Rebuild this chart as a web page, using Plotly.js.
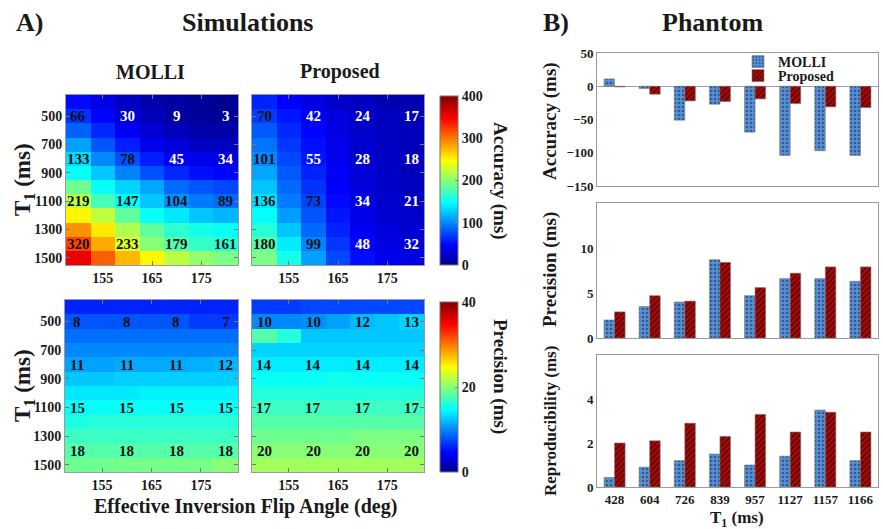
<!DOCTYPE html>
<html>
<head>
<meta charset="utf-8">
<script src="https://cdn.plot.ly/plotly-3.0.1.min.js"></script>
<style>
html,body{margin:0;padding:0;background:#fff;}
#chart{width:883px;height:529px;}
</style>
</head>
<body>
<div id="chart"></div>
<script>
// ---------- Simulation heatmap data ----------
const flipAngles = [150, 155, 160, 165, 170, 175, 180];
const t1Values = [400, 500, 600, 700, 800, 900, 1000, 1100, 1200, 1300, 1400, 1500];

const molliAccuracy = [
  [50, 35, 22, 12, 8, 4, 2],
  [66, 48, 30, 18, 9, 5, 3],
  [85, 62, 42, 28, 18, 12, 10],
  [110, 80, 58, 40, 30, 22, 20],
  [133, 100, 78, 58, 45, 38, 34],
  [150, 125, 98, 78, 62, 52, 48],
  [190, 150, 130, 112, 88, 80, 75],
  [219, 175, 147, 125, 104, 95, 89],
  [250, 222, 185, 150, 138, 125, 118],
  [290, 255, 215, 185, 165, 155, 150],
  [320, 280, 233, 200, 179, 168, 161],
  [355, 310, 275, 250, 220, 205, 195]
];
const proposedAccuracy = [
  [60, 45, 35, 25, 20, 15, 13],
  [70, 55, 42, 32, 24, 20, 17],
  [82, 62, 48, 35, 26, 20, 17],
  [92, 68, 52, 38, 27, 21, 18],
  [101, 75, 55, 40, 28, 22, 18],
  [112, 82, 60, 42, 30, 23, 19],
  [124, 88, 66, 45, 32, 24, 20],
  [136, 95, 73, 50, 34, 26, 21],
  [148, 108, 80, 55, 38, 28, 24],
  [162, 125, 88, 60, 42, 31, 28],
  [180, 140, 99, 68, 48, 36, 32],
  [195, 155, 110, 75, 52, 40, 35]
];
const molliPrecision = [
  [6, 6, 6, 6, 6, 6, 6],
  [8, 8, 8, 8, 8, 7, 7],
  [9, 9, 9, 9, 9, 9, 9],
  [10, 10, 10, 10, 10, 10, 10],
  [11, 11, 11.4, 11.4, 11.4, 11.6, 11.8],
  [12.5, 12.5, 12.8, 12.8, 12.8, 12.8, 12.8],
  [13.8, 13.8, 13.8, 14.2, 14.2, 14.2, 14.2],
  [15, 15, 15, 15, 15, 15, 15],
  [15.8, 16.2, 16.2, 16.2, 16.2, 16.2, 16.2],
  [17, 17, 17, 17, 17, 17, 17],
  [18, 18, 18, 18, 18, 18, 18],
  [19, 19, 19.3, 19.3, 19.3, 19.3, 20]
];
const proposedPrecision = [
  [7, 7, 7.5, 7.5, 7.5, 7.5, 7.5],
  [10, 10, 10.3, 11, 12, 12.5, 13],
  [18, 16, 12.5, 12.5, 12.5, 12.5, 12.5],
  [13, 13, 13, 13, 13, 13, 13],
  [14, 14, 14, 14, 14, 14, 14],
  [15, 15, 15, 15.3, 15, 15, 15],
  [16, 16, 16, 16, 16, 16, 16],
  [17, 17, 17, 17, 17, 17, 17],
  [18, 18, 18, 18, 18, 18, 18],
  [19, 19, 19, 19, 19.5, 19.5, 19.5],
  [20, 20, 20, 20, 20, 20, 20],
  [21, 21, 21, 21, 21, 21, 21]
];

// printed cell labels
const labelT1 = [500, 800, 1100, 1400];
const labelFlip = [150, 160, 170, 180];
const molliAccLabels = [[66, 30, 9, 3], [133, 78, 45, 34], [219, 147, 104, 89], [320, 233, 179, 161]];
const proposedAccLabels = [[70, 42, 24, 17], [101, 55, 28, 18], [136, 73, 34, 21], [180, 99, 48, 32]];
const molliPrecLabels = [[8, 8, 8, 7], [11, 11, 11, 12], [15, 15, 15, 15], [18, 18, 18, 18]];
const proposedPrecLabels = [[10, 10, 12, 13], [14, 14, 14, 14], [17, 17, 17, 17], [20, 20, 20, 20]];

// ---------- Phantom bar data ----------
const phantomT1 = ['428', '604', '726', '839', '957', '1127', '1157', '1166'];
const molliAccBars = [11, -3.5, -51, -27, -69, -104, -97, -104];
const proposedAccBars = [-1, -12, -22, -23, -19, -26, -31, -32];
const molliPrecBars = [2.0, 3.5, 4.0, 8.7, 4.7, 6.6, 6.6, 6.3];
const proposedPrecBars = [2.9, 4.7, 4.1, 8.4, 5.6, 7.2, 7.9, 7.9];
const molliRepBars = [0.43, 0.9, 1.2, 1.5, 1.0, 1.4, 3.5, 1.2];
const proposedRepBars = [2.0, 2.1, 2.9, 2.3, 3.3, 2.5, 3.4, 2.5];

// ---------- styling ----------
const W = 883, H = 529;
const FONT = 'Liberation Serif, Times New Roman, serif';
const TXT = '#1a1a1a';
const fx = p => p / W;
const fy = p => 1 - p / H;
const jet = [
  [0, 'rgb(0,0,143)'], [0.117, 'rgb(0,0,255)'], [0.367, 'rgb(0,255,255)'],
  [0.617, 'rgb(255,255,0)'], [0.867, 'rgb(255,0,0)'], [1, 'rgb(128,0,0)']
];
const tickFont = {family: FONT, size: 14, color: TXT, weight: 'bold'};
const LINE = '#9a9a9a';

function heat(z, ax, ca) {
  return {type: 'heatmap', x: flipAngles, y: t1Values, z: z, coloraxis: ca,
          xaxis: 'x' + ax, yaxis: 'y' + ax, hoverinfo: 'skip'};
}
const mBlue = {bgcolor: '#5a8fd0', fgcolor: '#2d5c9c', shape: '.', size: 4, solidity: 0.35};
const mRed = {bgcolor: '#a80c0c', fgcolor: '#5e0000', shape: '/', size: 4, solidity: 0.4};
function bars(name, y, ax, pat, show, leg) {
  return {type: 'bar', name: name, x: phantomT1, y: y, xaxis: 'x' + ax, yaxis: 'y' + ax,
          showlegend: show, legend: leg,
          marker: {color: pat.bgcolor, pattern: pat, line: {color: '#777', width: 0.6}},
          hoverinfo: 'skip'};
}

const data = [
  heat(molliAccuracy, '', 'coloraxis'),
  heat(proposedAccuracy, '2', 'coloraxis'),
  heat(molliPrecision, '3', 'coloraxis2'),
  heat(proposedPrecision, '4', 'coloraxis2'),
  bars('MOLLI', molliAccBars, '5', mBlue, true, 'legend'),
  bars('Proposed', proposedAccBars, '5', mRed, true, 'legend2'),
  bars('MOLLI', molliPrecBars, '6', mBlue, false, 'legend'),
  bars('Proposed', proposedPrecBars, '6', mRed, false, 'legend2'),
  bars('MOLLI', molliRepBars, '7', mBlue, false, 'legend'),
  bars('Proposed', proposedRepBars, '7', mRed, false, 'legend2')
];

function hx(x0, x1, anchor) {
  return {domain: [fx(x0), fx(x1)], anchor: anchor, range: [147.5, 182.5],
          tickvals: [155, 165, 175], ticks: 'inside', ticklen: 4, tickcolor: '#777',
          showline: true, linecolor: LINE, mirror: 'ticks', tickfont: tickFont,
          showgrid: false, zeroline: false, fixedrange: true};
}
function hy(y0, y1, anchor, labels) {
  return {domain: [fy(y1), fy(y0)], anchor: anchor, range: [1550, 350],
          tickvals: [500, 700, 900, 1100, 1300, 1500], ticks: 'inside', ticklen: 4, tickcolor: '#777',
          showline: true, linecolor: LINE, mirror: 'ticks', tickfont: tickFont,
          showticklabels: labels, showgrid: false, zeroline: false, fixedrange: true};
}
function bx(y0, y1, anchor, labels) {
  return {domain: [fx(597), fx(878)], anchor: anchor, type: 'category', range: [-0.5, 7.5],
          showline: true, linecolor: LINE, mirror: true, ticks: '',
          tickfont: {family: FONT, size: 13, color: TXT, weight: 'bold'},
          showticklabels: labels, showgrid: false, zeroline: false, fixedrange: true};
}
function by(y0, y1, anchor, range, tv, zl) {
  return {domain: [fy(y1), fy(y0)], anchor: anchor, range: range, tickvals: tv,
          showline: true, linecolor: LINE, mirror: true, ticks: '',
          tickfont: {family: FONT, size: 13, color: TXT, weight: 'bold'},
          showgrid: false, zeroline: zl, zerolinecolor: '#a0a0a0', zerolinewidth: 1.5,
          fixedrange: true};
}

const annotations = [];
function txt(text, x, y, size, angle) {
  annotations.push({text: text, x: fx(x), y: fy(y), xref: 'paper', yref: 'paper',
    showarrow: false, textangle: angle || 0, xanchor: 'center', yanchor: 'middle',
    font: {family: FONT, size: size, color: TXT, weight: 'bold'}});
}
txt('A)', 30, 23, 26);
txt('Simulations', 248, 23, 26);
txt('B)', 556, 23, 26);
txt('Phantom', 712, 23, 26);
txt('MOLLI', 150, 72, 20);
txt('Proposed', 340, 72, 20);
txt('T<sub>1</sub> (ms)', 24, 180, 23, -90);
txt('T<sub>1</sub> (ms)', 24, 386, 23, -90);
txt('Accuracy (ms)', 500, 181, 19, 90);
txt('Precision (ms)', 500, 376, 19, 90);
txt('Effective Inversion Flip Angle (deg)', 246, 506, 20);
txt('Accuracy (ms)', 550, 121, 19, -90);
txt('Precision (ms)', 550, 270, 19, -90);
txt('Reproducibility (ms)', 550, 421, 17, -90);
txt('T<sub>1</sub> (ms)', 737, 519, 17);

function cellLabels(labels, ax, thresh) {
  for (let i = 0; i < labelT1.length; i++) {
    for (let j = 0; j < labelFlip.length; j++) {
      const v = labels[i][j];
      annotations.push({text: String(v), x: labelFlip[j], y: labelT1[i],
        xref: 'x' + ax, yref: 'y' + ax, showarrow: false,
        font: {family: FONT, size: 15, weight: 'bold', color: v < thresh ? '#ffffff' : '#111111'}});
    }
  }
}
cellLabels(molliAccLabels, '', 60);
cellLabels(proposedAccLabels, '2', 60);
cellLabels(molliPrecLabels, '3', -1);
cellLabels(proposedPrecLabels, '4', -1);

function cbar(y0, y1, tv) {
  return {x: fx(440), xanchor: 'left', xpad: 0, ypad: 0, thickness: 18, thicknessmode: 'pixels',
          len: (y1 - y0) / H, lenmode: 'fraction', y: fy(y1), yanchor: 'bottom',
          outlinewidth: 1, outlinecolor: '#777', tickvals: tv, ticks: 'inside', ticklen: 3,
          tickcolor: '#888', tickfont: tickFont};
}
function leg(x, y) {
  return {x: fx(x), y: fy(y), xanchor: 'left', yanchor: 'middle', bgcolor: 'rgba(0,0,0,0)',
          font: {family: FONT, size: 14, color: TXT, weight: 'bold'}, itemwidth: 30};
}

const layout = {
  width: W, height: H, margin: {l: 0, r: 0, t: 0, b: 0},
  paper_bgcolor: '#fff', plot_bgcolor: '#fff',
  font: {family: FONT, color: TXT},
  bargap: 0.4, bargroupgap: 0, barmode: 'group',
  coloraxis: {cmin: 0, cmax: 400, colorscale: jet, colorbar: cbar(96, 265, [0, 100, 200, 300, 400])},
  coloraxis2: {cmin: 0, cmax: 40, colorscale: jet, colorbar: cbar(302, 472, [0, 20, 40])},
  xaxis: hx(66, 238, 'y'), yaxis: hy(95, 265, 'x', true),
  xaxis2: hx(252, 424, 'y2'), yaxis2: hy(95, 265, 'x2', false),
  xaxis3: hx(65, 238, 'y3'), yaxis3: hy(300, 472, 'x3', true),
  xaxis4: hx(252, 424, 'y4'), yaxis4: hy(300, 472, 'x4', false),
  xaxis5: bx(53, 186, 'y5', false), yaxis5: by(53, 186, 'x5', [-150, 50], [-150, -100, -50, 0, 50], true),
  xaxis6: bx(203, 338, 'y6', false), yaxis6: by(203, 338, 'x6', [0, 15], [0, 5, 10], false),
  xaxis7: bx(355, 487, 'y7', true), yaxis7: by(355, 487, 'x7', [0, 6], [0, 2, 4], false),
  showlegend: true,
  legend: leg(738, 62),
  legend2: leg(738, 76),
  annotations: annotations
};

Plotly.newPlot('chart', data, layout, {staticPlot: true, displayModeBar: false});
</script>
</body>
</html>
